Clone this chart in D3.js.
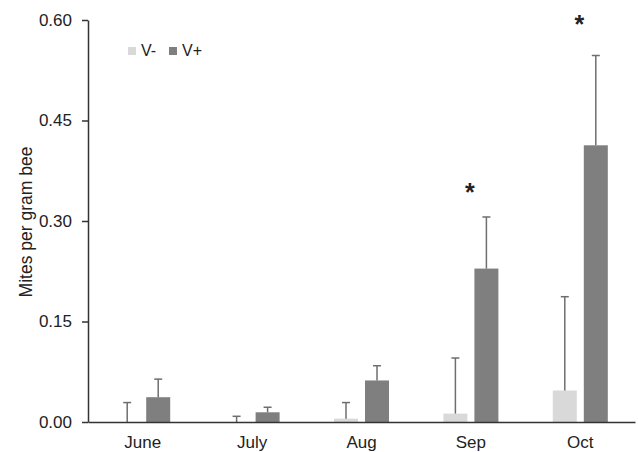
<!DOCTYPE html>
<html>
<head>
<meta charset="utf-8">
<script src="https://cdn.jsdelivr.net/npm/d3@7"></script>
<style>
  body { margin: 0; background: #fff; }
  text { font-family: "Liberation Sans", Arial, sans-serif; fill: #222; }
</style>
</head>
<body>
<div class="svg-container"></div>
<script>
var width = 638;
var height = 452;

var padding = { "top": 20, "right": 3, "bottom": 30, "left": 88 };

// data
var months = ["June", "July", "Aug", "Sep", "Oct"];
var series = ["V-", "V+"];
var meanNeg = [0.000, 0.000, 0.005, 0.0125, 0.047];
var errNeg  = [0.029, 0.0085, 0.029, 0.0955, 0.187];
var meanPos = [0.037, 0.0145, 0.062, 0.229, 0.413];
var errPos  = [0.064, 0.022, 0.084, 0.306, 0.547];
var stars   = ["", "", "", "*", "*"];
var starY   = [0, 0, 0, 0.349, 0.600];
var yTicks  = [0, 0.15, 0.30, 0.45, 0.60];

var colors = { "V-": "#d9d9d9", "V+": "#7f7f7f" };

var innerW = width - padding.left - padding.right;
var innerH = height - padding.top - padding.bottom;

var svg = d3.select(".svg-container")
            .append("svg")
            .attr("width", width)
            .attr("height", height)
            .append("g")
            .attr("transform", "translate(" + padding.left + "," + padding.top + ")");

var scaleX = d3.scaleBand()
               .domain(months)
               .range([0, innerW]);

var scaleSub = d3.scaleBand()
                 .domain(series)
                 .range([0, scaleX.bandwidth()])
                 .paddingInner(0.226)
                 .paddingOuter(0.877);

var scaleY = d3.scaleLinear()
               .domain([0, 0.6])
               .range([innerH, 0]);

// one row per month and series
var rows = [];
months.forEach(function(m, i) {
    rows.push({ month: m, key: "V-", mean: meanNeg[i], err: errNeg[i] });
    rows.push({ month: m, key: "V+", mean: meanPos[i], err: errPos[i] });
});

// bars
svg.append("g")
   .selectAll("rect")
   .data(rows)
   .enter()
   .append("rect")
   .attr("x", function(d) { return scaleX(d.month) + scaleSub(d.key); })
   .attr("y", function(d) { return scaleY(d.mean); })
   .attr("width", scaleSub.bandwidth())
   .attr("height", function(d) { return scaleY(0) - scaleY(d.mean); })
   .attr("fill", function(d) { return colors[d.key]; });

// error bars (upper only)
var errG = svg.append("g")
              .attr("stroke", "#6e6e6e")
              .attr("stroke-width", 1.5);

errG.selectAll("line.stem")
    .data(rows)
    .enter()
    .append("line")
    .attr("class", "stem")
    .attr("x1", function(d) { return scaleX(d.month) + scaleSub(d.key) + scaleSub.bandwidth() / 2; })
    .attr("x2", function(d) { return scaleX(d.month) + scaleSub(d.key) + scaleSub.bandwidth() / 2; })
    .attr("y1", function(d) { return scaleY(d.mean); })
    .attr("y2", function(d) { return scaleY(d.err); });

errG.selectAll("line.cap")
    .data(rows)
    .enter()
    .append("line")
    .attr("class", "cap")
    .attr("x1", function(d) { return scaleX(d.month) + scaleSub(d.key) + scaleSub.bandwidth() / 2 - 4; })
    .attr("x2", function(d) { return scaleX(d.month) + scaleSub(d.key) + scaleSub.bandwidth() / 2 + 4; })
    .attr("y1", function(d) { return scaleY(d.err); })
    .attr("y2", function(d) { return scaleY(d.err); });

// significance stars
svg.append("g")
   .selectAll("text")
   .data(months)
   .enter()
   .append("text")
   .attr("x", function(d) { return scaleX(d) + scaleX.bandwidth() / 2 - 1; })
   .attr("y", function(d, i) { return scaleY(starY[i]) + 13; })
   .attr("text-anchor", "middle")
   .style("font-size", "25px")
   .style("font-weight", "bold")
   .text(function(d, i) { return stars[i]; });

// axes
var yAxis = svg.append("g")
               .attr("class", "yAxis")
               .call(d3.axisLeft(scaleY)
                       .tickValues(yTicks)
                       .tickFormat(d3.format(".2f"))
                       .tickSize(6)
                       .tickSizeOuter(0)
                       .tickPadding(10));

var xAxis = svg.append("g")
               .attr("class", "xAxis")
               .attr("transform", "translate(0," + innerH + ")")
               .call(d3.axisBottom(scaleX)
                       .tickSize(0)
                       .tickSizeOuter(0)
                       .tickPadding(14));

svg.selectAll(".yAxis path, .yAxis line, .xAxis path")
   .attr("stroke", "#333")
   .attr("stroke-width", 1.5);

svg.selectAll(".yAxis text, .xAxis text")
   .style("font-family", "'Liberation Sans', Arial, sans-serif")
   .style("font-size", "17px")
   .attr("fill", "#222");

// y label
svg.append("text")
   .attr("transform", "rotate(270)")
   .attr("x", -202)
   .attr("y", -56)
   .attr("text-anchor", "middle")
   .style("font-size", "17.5px")
   .text("Mites per gram bee");

// legend
var legend = svg.append("g")
                .attr("transform", "translate(40,27)")
                .selectAll("g")
                .data(series)
                .enter()
                .append("g")
                .attr("transform", function(d, i) { return "translate(" + (i * 41) + ",0)"; });

legend.append("rect")
      .attr("width", 8)
      .attr("height", 8)
      .attr("fill", function(d) { return colors[d]; });

legend.append("text")
      .attr("x", 13)
      .attr("y", 8.5)
      .style("font-size", "16px")
      .text(function(d) { return d; });
</script>
</body>
</html>
